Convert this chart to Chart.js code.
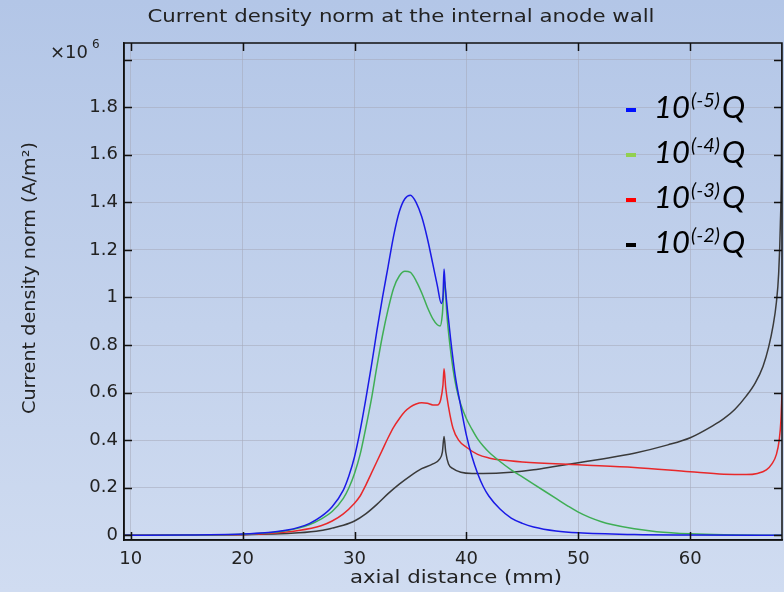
<!DOCTYPE html>
<html>
<head>
<meta charset="utf-8">
<script src="https://cdn.jsdelivr.net/npm/chart.js@4"></script>
<style>
  html, body { margin: 0; padding: 0; }
  body {
    width: 784px; height: 592px; overflow: hidden;
    background: linear-gradient(to bottom, #b3c6e7 0%, #c3d2ec 55%, #d0dcf1 100%);
  }
  #wrap { width: 784px; height: 592px; position: relative; }
</style>
</head>
<body>
<div id="wrap"><canvas id="chart"></canvas></div>
<script>
// axial distance (mm) / current density norm (x10^6 A/m^2)
const blueX = [9.4, 15, 20, 22, 24, 25, 26, 27, 28, 29, 29.5, 30, 30.5, 31, 31.5, 32, 32.5, 33, 33.5, 34, 34.5, 35, 35.5, 36, 36.5, 37, 37.4, 37.75, 37.9, 38.0, 38.1, 38.3, 38.6, 39.0, 39.5, 40, 40.5, 41, 41.5, 42, 43, 44, 45, 46, 48, 50, 55, 60, 68.2];
const blueY = [0, 0.001, 0.005, 0.01, 0.022, 0.033, 0.05, 0.078, 0.12, 0.19, 0.25, 0.33, 0.44, 0.57, 0.71, 0.86, 1.0, 1.13, 1.26, 1.36, 1.415, 1.43, 1.40, 1.34, 1.25, 1.14, 1.05, 0.975, 1.0, 1.12, 1.05, 0.95, 0.82, 0.67, 0.54, 0.42, 0.33, 0.26, 0.205, 0.165, 0.11, 0.072, 0.05, 0.035, 0.018, 0.01, 0.003, 0.001, 0];

const greenX = [9.4, 15, 20, 22, 24, 25, 26, 27, 28, 29, 29.5, 30, 30.5, 31, 31.5, 32, 32.5, 33, 33.5, 34, 34.5, 35, 35.5, 36, 36.5, 37, 37.4, 37.65, 37.85, 38.05, 38.25, 38.5, 38.8, 39.1, 39.5, 40, 40.5, 41, 41.5, 42, 43, 44, 45, 46, 47, 48, 49, 50, 51, 52, 53, 55, 57, 60, 63, 68.2];
const greenY = [0, 0.001, 0.004, 0.009, 0.02, 0.03, 0.045, 0.068, 0.10, 0.155, 0.2, 0.26, 0.34, 0.45, 0.57, 0.71, 0.84, 0.95, 1.04, 1.09, 1.11, 1.105, 1.07, 1.02, 0.96, 0.91, 0.885, 0.88, 0.93, 1.07, 0.93, 0.81, 0.70, 0.62, 0.55, 0.49, 0.445, 0.405, 0.375, 0.35, 0.31, 0.275, 0.245, 0.215, 0.185, 0.155, 0.125, 0.097, 0.075, 0.058, 0.045, 0.027, 0.015, 0.006, 0.002, 0];

const redX = [9.4, 15, 20, 22, 25, 27, 28, 29, 30, 30.5, 31, 31.5, 32, 32.5, 33, 33.5, 34, 34.5, 35, 35.5, 36, 36.5, 37, 37.4, 37.7, 37.9, 38.0, 38.15, 38.4, 38.8, 39.3, 40, 41, 42, 43, 45, 50, 55, 60, 63, 65, 66, 66.8, 67.3, 67.7, 67.95, 68.1, 68.2];
const redY = [0, 0.001, 0.003, 0.006, 0.02, 0.04, 0.06, 0.09, 0.135, 0.165, 0.21, 0.26, 0.31, 0.36, 0.41, 0.455, 0.49, 0.52, 0.54, 0.552, 0.557, 0.555, 0.548, 0.548, 0.57, 0.63, 0.70, 0.62, 0.54, 0.45, 0.40, 0.37, 0.34, 0.325, 0.317, 0.308, 0.296, 0.285, 0.267, 0.257, 0.255, 0.26, 0.275, 0.30, 0.34, 0.40, 0.48, 0.6];

const blackX = [9.4, 15, 20, 25, 27, 28, 29, 30, 31, 32, 33, 34, 35, 36, 37, 37.6, 37.85, 38.0, 38.15, 38.4, 38.8, 39.5, 40.5, 41.5, 44, 46, 48, 50, 52, 55, 58, 60, 62, 63, 64, 65, 65.8, 66.5, 67.0, 67.4, 67.7, 67.9, 68.05, 68.15, 68.2];
const blackY = [0, 0.001, 0.002, 0.01, 0.02, 0.03, 0.042, 0.06, 0.09, 0.13, 0.175, 0.215, 0.25, 0.28, 0.30, 0.32, 0.35, 0.415, 0.35, 0.30, 0.28, 0.265, 0.26, 0.26, 0.265, 0.275, 0.29, 0.305, 0.32, 0.345, 0.38, 0.41, 0.46, 0.49, 0.53, 0.585, 0.64, 0.71, 0.79, 0.88, 0.98, 1.1, 1.3, 1.6, 2.2];

const seriesNames = ["10^(-5)Q", "10^(-4)Q", "10^(-3)Q", "10^(-2)Q"];
const xTicks = [10, 20, 30, 40, 50, 60];
const yTicks = [0, 0.2, 0.4, 0.6, 0.8, 1, 1.2, 1.4, 1.6, 1.8, 2];

const lineColors = ["#1a1ae6", "#3fae55", "#e8282a", "#3a3a3a"];
const legendColors = ["#0010ff", "#92d050", "#ff0000", "#000000"];

const toPts = (xs, ys) => xs.map((x, i) => ({ x: x, y: ys[i] }));

const font = "'DejaVu Sans', sans-serif";

// draw text stretched to a given width (the reference picture is widened)
function fitText(ctx, text, cx, cy, w, angle) {
  ctx.save();
  ctx.translate(cx, cy);
  if (angle) ctx.rotate(angle);
  const m = ctx.measureText(text).width;
  ctx.scale(w / m, 1);
  ctx.textAlign = "center";
  ctx.textBaseline = "middle";
  ctx.fillText(text, 0, 0);
  ctx.restore();
}

// frame, inward tick marks, axis titles, multiplier and the custom legend
const decorations = {
  id: "decorations",
  afterDatasetsDraw(chart) {
    const ctx = chart.ctx;
    const a = chart.chartArea;
    const xs = chart.scales.x, ys = chart.scales.y;
    ctx.save();
    ctx.strokeStyle = "#111";
    ctx.lineWidth = 1.5;
    ctx.strokeRect(a.left, a.top, a.right - a.left, a.bottom - a.top);
    ctx.beginPath();
    xTicks.forEach(v => {
      const px = Math.round(xs.getPixelForValue(v)) + 0.5;
      ctx.moveTo(px, a.bottom); ctx.lineTo(px, a.bottom - 8);
      ctx.moveTo(px, a.top); ctx.lineTo(px, a.top + 8);
    });
    yTicks.forEach(v => {
      const py = Math.round(ys.getPixelForValue(v)) + 0.5;
      ctx.moveTo(a.left, py); ctx.lineTo(a.left + 8, py);
      ctx.moveTo(a.right, py); ctx.lineTo(a.right - 8, py);
    });
    ctx.stroke();

    ctx.fillStyle = "#222";
    ctx.font = "17px " + font;
    fitText(ctx, "Current density norm at the internal anode wall", 401, 18, 507);
    ctx.font = "18px " + font;
    fitText(ctx, "axial distance (mm)", 456, 578, 212);
    ctx.font = "17px " + font;
    fitText(ctx, "Current density norm (A/m\u00B2)", 31, 278, 272, -Math.PI / 2);

    // multiplier
    ctx.textAlign = "left";
    ctx.textBaseline = "middle";
    ctx.font = "18px " + font;
    ctx.fillText("\u00D710", 50, 53);
    ctx.font = "12px " + font;
    ctx.fillText("6", 92, 45);

    // legend
    const rowBase = [118, 163, 208, 253];
    seriesNames.forEach((name, i) => {
      const b = rowBase[i];
      ctx.fillStyle = legendColors[i];
      ctx.fillRect(626, b - 10, 10, 4);
      const parts = name.match(/^(\d+)\^(\([^)]*\))(.*)$/);
      ctx.fillStyle = "#000";
      ctx.textBaseline = "alphabetic";
      ctx.font = "italic 31px Lato, 'Open Sans', sans-serif";
      ctx.fillText(parts[1], 654, b);
      let w = ctx.measureText(parts[1]).width;
      ctx.font = "italic 20px Lato, 'Open Sans', sans-serif";
      ctx.fillText(parts[2], 654 + w + 1, b - 11);
      w += ctx.measureText(parts[2]).width + 1;
      ctx.font = "italic 31px Lato, 'Open Sans', sans-serif";
      ctx.fillText(parts[3], 654 + w + 2, b);
    });
    ctx.restore();
  }
};

const makeSet = (xs, ys, i) => ({
  label: seriesNames[i],
  data: toPts(xs, ys),
  borderColor: lineColors[i],
  backgroundColor: lineColors[i],
  borderWidth: 1.5,
  pointRadius: 0,
  fill: false,
  cubicInterpolationMode: "monotone"
});

new Chart(document.getElementById("chart"), {
  type: "line",
  data: {
    datasets: [
      makeSet(blueX, blueY, 0),
      makeSet(greenX, greenY, 1),
      makeSet(redX, redY, 2),
      makeSet(blackX, blackY, 3)
    ]
  },
  options: {
    responsive: true,
    maintainAspectRatio: false,
    animation: false,
    layout: { padding: { top: 43, right: 2, left: 0, bottom: 0 } },
    plugins: {
      legend: { display: false },
      title: { display: false },
      tooltip: { enabled: false }
    },
    scales: {
      x: {
        type: "linear",
        min: 9.4,
        max: 68.2,
        afterBuildTicks: s => { s.ticks = xTicks.map(v => ({ value: v })); },
        afterFit: s => { s.height = 52; },
        grid: { color: "rgba(165,170,185,0.55)", lineWidth: 1, drawTicks: false },
        border: { display: true, color: "#111", width: 1.5 },
        ticks: {
          padding: 9,
          color: "#222",
          font: { family: "DejaVu Sans", size: 18 },
          maxRotation: 0
        }
      },
      y: {
        type: "linear",
        min: -0.02,
        max: 2.07,
        afterBuildTicks: s => { s.ticks = yTicks.map(v => ({ value: v })); },
        afterFit: s => { s.width = 124; },
        grid: { color: "rgba(165,170,185,0.55)", lineWidth: 1, drawTicks: false },
        border: { display: true, color: "#111", width: 1.5 },
        ticks: {
          padding: 6,
          color: "#222",
          font: { family: "DejaVu Sans", size: 18 },
          callback: v => (v >= 2 ? "" : String(Math.round(v * 10) / 10))
        }
      }
    }
  },
  plugins: [decorations]
});
</script>
</body>
</html>
